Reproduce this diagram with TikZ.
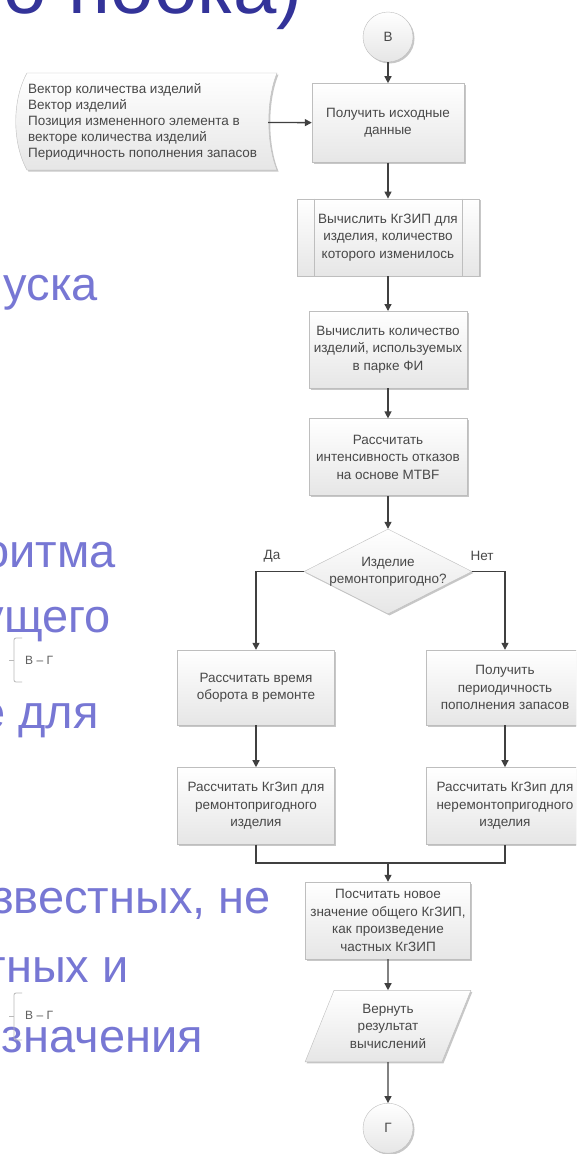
\documentclass[tikz,border=0pt]{standalone}
\usepackage{fontspec}
\setmainfont{Liberation Sans}
\usetikzlibrary{arrows.meta,positioning,shapes.geometric,shadows}
\definecolor{titleblue}{RGB}{51,51,153}
\definecolor{slideblue}{RGB}{119,119,212}
\definecolor{boxline}{RGB}{190,190,190}
\definecolor{boxfill}{RGB}{230,230,230}
\definecolor{flowline}{RGB}{64,64,64}
\definecolor{flowtext}{RGB}{72,72,72}

\begin{document}
\begin{tikzpicture}[
  x=1pt, y=-1pt,
  font=\fontsize{13.5}{17.5}\selectfont,
  >={Triangle[length=7pt,width=7pt]},
  slidetitle/.style={
    anchor=base east,
    inner sep=0pt,
    text=titleblue,
    font=\fontsize{78}{78}\selectfont
  },
  slideline/.style={
    anchor=base east,
    inner sep=0pt,
    text=slideblue,
    font=\fontsize{47}{47}\selectfont
  },
  block/.style={
    draw=boxline,
    top color=white,
    bottom color=boxfill,
    drop shadow={shadow xshift=1.5pt,shadow yshift=-1.5pt,opacity=0.22,fill=black},
    text=flowtext,
    align=center,
    minimum width=158pt,
    minimum height=77pt,
    inner sep=2pt
  },
  connector/.style={block,circle,minimum size=50pt},
  decision/.style={block,diamond,minimum width=168pt,minimum height=85pt,inner sep=0pt},
  dataio/.style={
    block,
    trapezium,
    trapezium left angle=68,
    trapezium right angle=112,
    minimum width=0pt,
    minimum height=0pt,
    text width=80pt,
    inner xsep=14pt,
    inner ysep=13.5pt
  },
  storedata/.style={
    draw=boxline,
    top color=white,
    bottom color=boxfill,
    drop shadow={shadow xshift=1.5pt,shadow yshift=-1.5pt,opacity=0.22,fill=black}
  },
  flow/.style={->,draw=flowline,line width=1.3pt},
  mergeline/.style={draw=flowline,line width=1.3pt},
  branchlabel/.style={text=flowtext,inner sep=0pt},
  notebracket/.style={draw=gray!55,line width=0.8pt,rounded corners=2pt},
  notetext/.style={anchor=west,inner sep=0pt,text=gray!75!black,font=\fontsize{12}{12}\selectfont}
]
  \useasboundingbox[fill=white] (0,0) rectangle (576,1154);
  \clip (0,0) rectangle (576,1154);

  % Slide text behind the chart.
  \node[slidetitle] (title) at (303,13) {о поока)};
  \node[slideline] (lineone) at (98,300) {уска};
  \node[slideline] (linetwo) at (116,567) {оитма};
  \node[slideline] (linethree) at (111,632) {ущего};
  \node[slideline] (linefour) at (99,728) {е для};
  \node[slideline] (linefive) at (271,913) {звестных, не};
  \node[slideline] (linesix) at (129,982) {тных и};
  \node[slideline] (lineseven) at (203,1052) {значения};

  \draw[notebracket] (22,638) -- (14,638) -- (14,682) -- (22,682);
  \draw[notebracket] (9,660) -- (14,660);
  \node[notetext] (noteone) at (25,660) {В – Г};
  \draw[notebracket] (22,993) -- (14,993) -- (14,1040) -- (22,1040);
  \draw[notebracket] (9,1016) -- (14,1016);
  \node[notetext] (notetwo) at (25,1015) {В – Г};

  % Main column.
  \node[connector] (startconn) at (388,37) {В};
  \node[block,minimum width=152pt,minimum height=79pt,below=21pt of startconn] (getdata) {Получить исходные\\данные};
  \node[block,minimum width=182pt,below=36pt of getdata] (calcpart) {Вычислить КгЗИП для\\изделия, количество\\которого изменилось};
  \draw[boxline] ([xshift=17pt]calcpart.north west) -- ([xshift=17pt]calcpart.south west);
  \draw[boxline] ([xshift=-17pt]calcpart.north east) -- ([xshift=-17pt]calcpart.south east);
  \node[block,below=35pt of calcpart] (calcfleet) {Вычислить количество\\изделий, используемых\\в парке ФИ};
  \node[block,below=30pt of calcfleet] (failrate) {Рассчитать\\интенсивность отказов\\на основе MTBF};
  \node[decision,below=33pt of failrate] (repairable) {};
  \node[branchlabel,align=center] (repairabletext) at (repairable) {Изделие\\ремонтопригодно?};

  % Input data.
  \draw[storedata] (27,73) -- (277,73) .. controls (266,100) and (266,143) .. (277,170)
    -- (27,170) .. controls (12,143) and (12,100) .. (27,73);
  \node[anchor=west,align=left,inner sep=0pt,text=flowtext,font=\fontsize{13.5}{16}\selectfont] (inputs) at (28,122) {Вектор количества изделий\\Вектор изделий\\Позиция измененного элемента в\\векторе количества изделий\\Периодичность пополнения запасов};
  \coordinate (inputsport) at (268,122.5);

  % Branches.
  \node[block,minimum width=157pt,minimum height=75pt] (repairtime) at (256,687.5) {Рассчитать время\\оборота в ремонте};
  \node[block,minimum width=157pt,minimum height=75pt] (replenish) at (505,687.5) {Получить\\периодичность\\пополнения запасов};
  \node[block,minimum width=157pt,below=42pt of repairtime] (repairkzip) {Рассчитать КгЗип для\\ремонтопригодного\\изделия};
  \node[block,minimum width=157pt,below=42pt of replenish] (nonrepairkzip) {Рассчитать КгЗип для\\неремонтопригодного\\изделия};
  \node[branchlabel] (yeslabel) at (272,556) {Да};
  \node[branchlabel] (nolabel) at (482,556) {Нет};

  \coordinate (merge) at (388,863);
  \node[block,minimum width=165pt] (totalkzip) at (388,920.5) {Посчитать новое\\значение общего КгЗИП,\\как произведение\\частных КгЗИП};
  \node[dataio,below=31pt of totalkzip] (result) {Вернуть\\результат\\вычислений};
  \node[connector,below=41pt of result] (endconn) {Г};

  \draw[flow] (startconn) -- (getdata);
  \draw[flow] (inputsport) -- (getdata);
  \draw[flow] (getdata) -- (calcpart);
  \draw[flow] (calcpart) -- (calcfleet);
  \draw[flow] (calcfleet) -- (failrate);
  \draw[flow] (failrate) -- (repairable);
  \draw[flow] (repairable.west) -| (repairtime.north);
  \draw[flow] (repairable.east) -| (replenish.north);
  \draw[flow] (repairtime) -- (repairkzip);
  \draw[flow] (replenish) -- (nonrepairkzip);
  \draw[mergeline] (repairkzip.south) -- (repairkzip.south |- merge) -| (nonrepairkzip.south);
  \draw[flow] (merge) -- (totalkzip);
  \draw[flow] (totalkzip) -- (result);
  \draw[flow] (result) -- (endconn);
\end{tikzpicture}
\end{document}
